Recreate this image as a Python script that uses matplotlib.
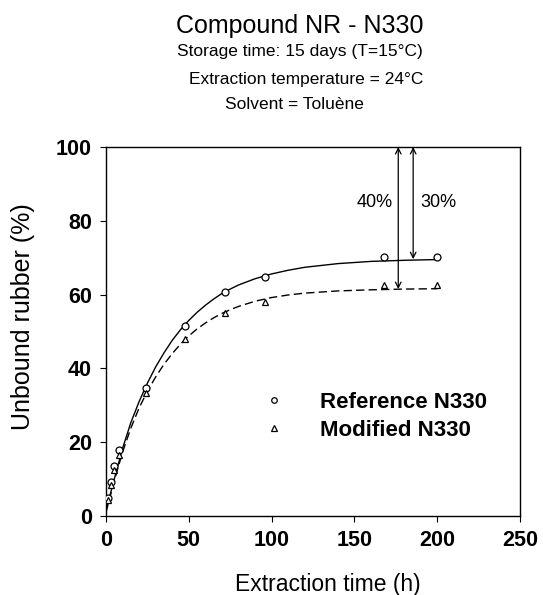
import numpy as np
import matplotlib
matplotlib.use("Agg")
import matplotlib.pyplot as plt

plt.rcParams['font.family'] = ['Liberation Sans', 'DejaVu Sans']

# ==============================
# DATA
# ==============================
t_ref = [1, 3, 5, 8, 24, 48, 72, 96, 168, 200]
y_ref = [4.9, 9.3, 13.5, 17.9, 34.6, 51.5, 60.7, 64.8, 70.2, 70.2]

t_mod = [1, 3, 5, 8, 24, 48, 72, 96, 168, 200]
y_mod = [4.3, 8.5, 12.5, 16.5, 33.3, 48.0, 55.0, 58.0, 62.6, 62.6]

# fitted curves
t_fit = [0, 5, 10, 15, 20, 25, 30, 35, 40, 45, 50, 55, 60, 65, 70, 75, 80, 90,
         100, 110, 120, 140, 160, 180, 200]
fit_ref = [1.5, 10.0, 18.3, 25.3, 31.0, 36.0, 40.4, 44.2, 47.6, 50.5, 53.0, 55.2,
           57.1, 58.8, 60.3, 61.5, 62.6, 64.3, 65.6, 66.6, 67.4, 68.4, 69.0,
           69.3, 69.5]
fit_mod = [1.0, 9.5, 17.3, 23.8, 29.3, 33.8, 37.7, 41.1, 44.0, 46.6, 48.8, 50.7,
           52.3, 53.7, 54.9, 55.9, 56.8, 58.2, 59.2, 59.9, 60.4, 61.0, 61.3,
           61.5, 61.6]

xticks = [0, 50, 100, 150, 200, 250]
yticks = [0, 20, 40, 60, 80, 100]

# ==============================
# PLOT
# ==============================
fig = plt.figure(figsize=(5.43, 5.95), dpi=100)
ax = fig.add_axes([0.1952, 0.1328, 0.7624, 0.6201])

ax.plot(t_fit, fit_ref, color="black", lw=1.0)
ax.plot(t_fit, fit_mod, color="black", lw=1.0, dashes=(6, 3))
ax.plot(t_ref, y_ref, "o", mfc="white", mec="black", ms=5, mew=0.9,
        label="Reference N330", zorder=3)
ax.plot(t_mod, y_mod, "^", mfc="white", mec="black", ms=5, mew=0.9,
        label="Modified N330", zorder=3)

# arrows showing the gap to 100 %
ax.annotate("", xy=(176.5, 61.5), xytext=(176.5, 100),
            arrowprops=dict(arrowstyle="<->", color="black", lw=0.9,
                            shrinkA=0, shrinkB=0))
ax.annotate("", xy=(185.5, 69.6), xytext=(185.5, 100),
            arrowprops=dict(arrowstyle="<->", color="black", lw=0.9,
                            shrinkA=0, shrinkB=0))
ax.text(173, 85, "40%", ha="right", va="center", fontsize=13)
ax.text(190, 85, "30%", ha="left", va="center", fontsize=13)

ax.set_xlim(0, 250)
ax.set_ylim(0, 100)
ax.set_xticks(xticks)
ax.set_yticks(yticks)
ax.tick_params(direction="out", length=4, width=0.8, labelsize=15.5, pad=6)
for lab in ax.get_xticklabels() + ax.get_yticklabels():
    lab.set_fontweight("bold")
for s in ax.spines.values():
    s.set_linewidth(1.0)

ax.set_xlabel("Extraction time (h)", fontsize=16.5)
ax.set_ylabel("Unbound rubber (%)", fontsize=18)
ax.xaxis.set_label_coords(0.535, -0.155)
ax.yaxis.set_label_coords(-0.172, 0.54)

ax.legend(loc="lower left", bbox_to_anchor=(0.33, 0.15), frameon=False,
          prop={"weight": "bold", "size": 16}, markerscale=0.8,
          handlelength=1.0, handletextpad=1.6, labelspacing=0.3)

fig.text(0.552, 0.957, "Compound NR - N330", ha="center", va="center", fontsize=18)
fig.text(0.553, 0.914, "Storage time: 15 days (T=15\u00b0C)", ha="center", va="center", fontsize=12.5)
fig.text(0.563, 0.867, "Extraction temperature = 24\u00b0C", ha="center", va="center", fontsize=12.5)
fig.text(0.543, 0.825, "Solvent = Tolu\u00e8ne", ha="center", va="center", fontsize=12.5)

fig.savefig("out.png", dpi=100)
